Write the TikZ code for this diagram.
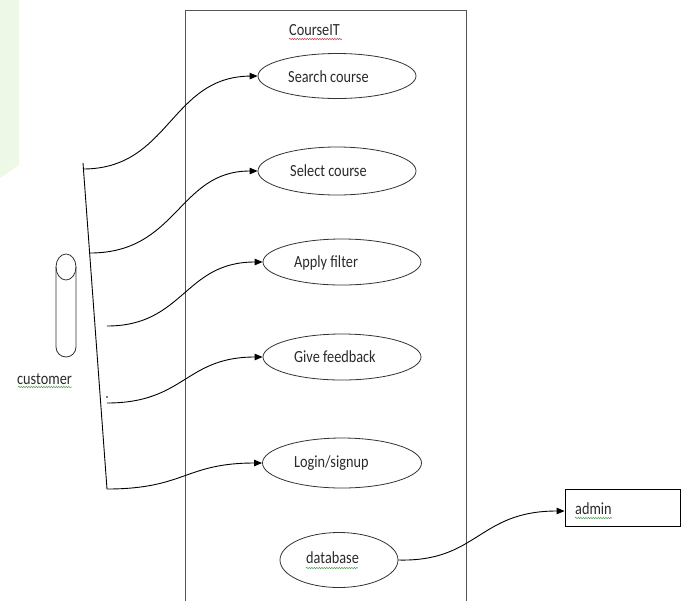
\documentclass[tikz,border=0pt]{standalone}
\usepackage{fontspec}
\setmainfont{Carlito}[FakeStretch=0.84]
\usetikzlibrary{arrows.meta,shapes.geometric,decorations.pathmorphing}
\definecolor{boxgray}{HTML}{555555}
\definecolor{linegray}{HTML}{333333}
\definecolor{txt}{HTML}{2A2A2A}
\definecolor{bggreen}{HTML}{EEF8E6}
\definecolor{spellred}{HTML}{D04050}
\definecolor{spellgreen}{HTML}{50A050}
\tikzset{
  usecase/.style={draw=linegray, line width=0.8pt, ellipse, inner sep=0pt},
  lbl/.style={anchor=west, inner sep=0pt, text=txt, font=\fontsize{17}{19}\selectfont},
  conn/.style={draw=black, line width=0.9pt},
  arr/.style={conn, -{Triangle[length=8pt,width=6.5pt]}},
  squiggle/.style={line width=0.5pt, decorate, decoration={snake, amplitude=0.7pt, segment length=2.5pt}}
}
\begin{document}
\begin{tikzpicture}[x=1pt,y=-1pt]
\useasboundingbox (0,0) rectangle (684,600);
\fill[white] (0,0) rectangle (684,600);
% faint green background shape
\fill[bggreen] (0,0) -- (19,0) -- (19,165) -- (0,178) -- cycle;
% system boundary
\draw[boxgray, line width=0.9pt] (185,602) -- (185,10) -- (466,10) -- (466,602);
\node[lbl] (title) at (289,30) {CourseIT};
\draw[spellred, squiggle] (289,39) -- (342,39);
% use cases
\node[usecase, minimum width=158pt, minimum height=45pt] (u1) at (337,76) {};
\node[usecase, minimum width=158pt, minimum height=48pt] (u2) at (337,171) {};
\node[usecase, minimum width=158pt, minimum height=46pt] (u3) at (342,262) {};
\node[usecase, minimum width=158pt, minimum height=46pt] (u4) at (342,357) {};
\node[usecase, minimum width=159pt, minimum height=50pt] (u5) at (342,463) {};
\node[usecase, minimum width=118pt, minimum height=55pt] (u6) at (339,560) {};
\node[lbl] (t1) at (288,77) {Search course};
\node[lbl] (t2) at (290,171) {Select course};
\node[lbl] (t3) at (294,263) {Apply filter};
\node[lbl] (t4) at (294,357) {Give feedback};
\node[lbl] (t5) at (294,463) {Login/signup};
\node[lbl] (t6) at (306,558) {database};
\draw[spellgreen, squiggle] (306,568) -- (358,568);
% admin
\node[draw=black, line width=0.9pt, minimum width=115pt, minimum height=37pt, inner sep=0pt] (admin) at (622.5,507.5) {};
\node[lbl] (tadmin) at (575,509) {admin};
\draw[spellgreen, squiggle] (575,518) -- (612,518);
% actor
\draw[linegray, line width=0.8pt] (66,267) ellipse (10 and 13);
\draw[linegray, line width=0.8pt] (56,267) -- (56,347) arc[start angle=180, end angle=0, radius=10] -- (76,267);
\node[lbl] (actor) at (17,379) {customer};
\draw[spellgreen, squiggle] (18,387) -- (72,387);
% connectors from actor
\coordinate (ltop) at (83,163);
\coordinate (lbot) at (107,489);
\draw[conn] (ltop) -- (lbot);
\coordinate (s1) at (83,169);
\coordinate (s2) at (90,253);
\coordinate (s3) at (107,326);
\coordinate (s4) at (107,403);
\fill[black] (107,397) circle (0.9);
\draw[arr] (s1) .. controls (170,169) and (170,77) .. (u1.west);
\draw[arr] (s2) .. controls (178,253) and (178,171) .. (u2.west);
\draw[arr] (s3) .. controls (184,326) and (184,262) .. (u3.west);
\draw[arr] (s4) .. controls (185,403) and (185,357) .. (u4.west);
\draw[arr] (lbot) .. controls (185,489) and (185,463) .. (u5.west);
\draw[arr] (u6.east) .. controls (478,562) and (478,511) .. (admin.west |- 0,511);
\end{tikzpicture}
\end{document}
